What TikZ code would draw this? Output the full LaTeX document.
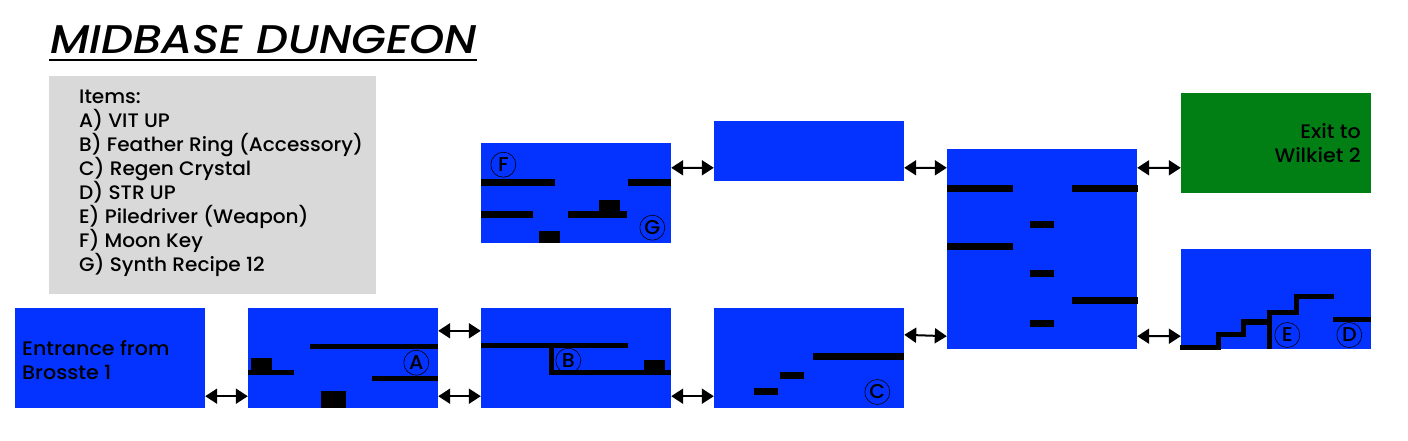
\documentclass[tikz,border=0pt]{standalone}
\usepackage{fontspec}
\setmainfont{Poppins Medium}[FakeStretch=1.03]
\newfontfamily\roomfont{Poppins Medium}[FakeStretch=1.06]
\newfontfamily\titlefont{Poppins Medium Italic}[FakeStretch=1.12]
\usetikzlibrary{arrows.meta}
\definecolor{roomblue}{HTML}{0433FF}
\definecolor{exitgreen}{HTML}{017F14}
\definecolor{panelgray}{HTML}{D9D9D9}
\tikzset{
  room/.style={fill=roomblue,minimum width=190bp,minimum height=100bp,inner sep=0pt},
  link/.style={{Triangle[length=12bp,width=15bp]}-{Triangle[length=12bp,width=15bp]},line width=2bp},
  tag/.style={draw,circle,line width=0.6bp,minimum size=25bp,inner sep=0pt,font=\fontsize{20bp}{20bp}\selectfont},
  txt/.style={font=\fontsize{19.5bp}{24bp}\selectfont},
  roomtxt/.style={font=\fontsize{19.5bp}{24bp}\roomfont},
}
\begin{document}
\begin{tikzpicture}[x=1bp,y=-1bp]
\useasboundingbox (0,0) rectangle (1408,441);
%%
\node (title) at (263.5,40) [inner sep=0pt,font=\fontsize{40bp}{40bp}\titlefont] {MIDBASE DUNGEON};
\coordinate (ruleL) at (49,60);
\coordinate (ruleR) at (477,60);
\draw [line width=2bp] (ruleL) -- (ruleR);
\node (panel) at (212.5,185) [fill=panelgray,minimum width=327bp,minimum height=218bp,inner sep=0pt] {};
\node (items) at (79,183) [anchor=west,inner sep=0pt,align=left,txt] {Items:\\A) VIT UP\\B) Feather Ring (Accessory)\\C) Regen Crystal\\D) STR UP\\E) Piledriver (Weapon)\\F) Moon Key\\G) Synth Recipe 12};
%
\node (entrance) at (110,358) [room] {};
\node (entrancetxt) at (22,360) [anchor=west,inner sep=0pt,align=left,roomtxt] {Entrance from\\Brosste 1};
\node (roomA) at (343,358) [room] {};
\node (roomB) at (576,358) [room] {};
\node (roomC) at (809,358) [room] {};
\node (roomF) at (576,193) [room] {};
\node (roomTop) at (809,151) [room,minimum height=60bp] {};
\node (roomBig) at (1042,249) [room,minimum height=200bp] {};
\node (roomExit) at (1276,143) [room,fill=exitgreen] {};
\node (exittxt) at (1361,143) [anchor=east,inner sep=0pt,align=right,roomtxt] {Exit to\\Wilkiet 2};
\node (roomD) at (1276,299) [room] {};
%
\node (tagA) at (416.3,362.7) [tag] {A};
\node (tagB) at (568.3,360.7) [tag] {B};
\node (tagC) at (877.3,392) [tag] {C};
\node (tagD) at (1349.3,335) [tag] {D};
\node (tagE) at (1287.3,335) [tag] {E};
\node (tagF) at (503.3,164.7) [tag] {F};
\node (tagG) at (652.3,227.7) [tag] {G};
%
\fill (310,343.5) rectangle (438,348.5);
\fill (248,370) rectangle (294,375);
\fill (251,358) rectangle (272,370);
\fill (371.5,376.3) rectangle (437.5,381.3);
\fill (321,391) rectangle (346,408);
%
\fill (481,343.3) rectangle (628,348.3);
\fill (549.3,348) rectangle (554.3,375);
\fill (549.3,370.3) rectangle (671,375.3);
\fill (644,360) rectangle (665,370.3);
%
\fill (813,353) rectangle (904,360);
\fill (780,372) rectangle (804,379);
\fill (754,388) rectangle (778,395);
%
\fill (481,179) rectangle (555,186);
\fill (628,179) rectangle (671,186);
\fill (481,211) rectangle (533,218);
\fill (568,211) rectangle (627,218);
\fill (599,200) rectangle (620,211);
\fill (539,231) rectangle (560,243);
%
\foreach \y in {185,243} \fill (947,\y) rectangle (1013,\y+7);
\foreach \y in {185,297} \fill (1072,\y) rectangle (1138,\y+7);
\foreach \y in {221,270,320} \fill (1030,\y) rectangle (1054,\y+7);
%
\draw [line width=5bp] (1180,347.5) -- (1218.5,347.5) -- (1218.5,334.5) -- (1243.5,334.5) -- (1243.5,322) -- (1269.5,322);
\draw [line width=5bp] (1269.5,349) -- (1269.5,312.5) -- (1296.5,312.5) -- (1296.5,296.5) -- (1334,296.5);
\fill (1333,317) rectangle (1371,322);
%
\draw [link] ([yshift=12bp]entrance.south east) -- ([yshift=12bp]roomA.south west);
\draw [link] ([yshift=12bp]roomA.south east) -- ([yshift=12bp]roomB.south west);
\draw [link] ([yshift=-23bp]roomA.north east) -- ([yshift=-23bp]roomB.north west);
\draw [link] ([yshift=12bp]roomB.south east) -- ([yshift=12bp]roomC.south west);
\draw [link] ([yshift=-25bp]roomF.north east) -- ([yshift=-47bp]roomTop.north west);
\draw [link] ([yshift=-47bp]roomTop.north east) -- ([yshift=-19bp]roomBig.north west);
\draw [link] ([yshift=-19bp]roomBig.north east) -- ([yshift=-75bp]roomExit.north west);
\draw [link] ([yshift=-27bp]roomC.north east) -- ([yshift=13bp]roomBig.south west);
\draw [link] ([yshift=13bp]roomBig.south east) -- ([yshift=13bp]roomD.south west);
%
\end{tikzpicture}
\end{document}
